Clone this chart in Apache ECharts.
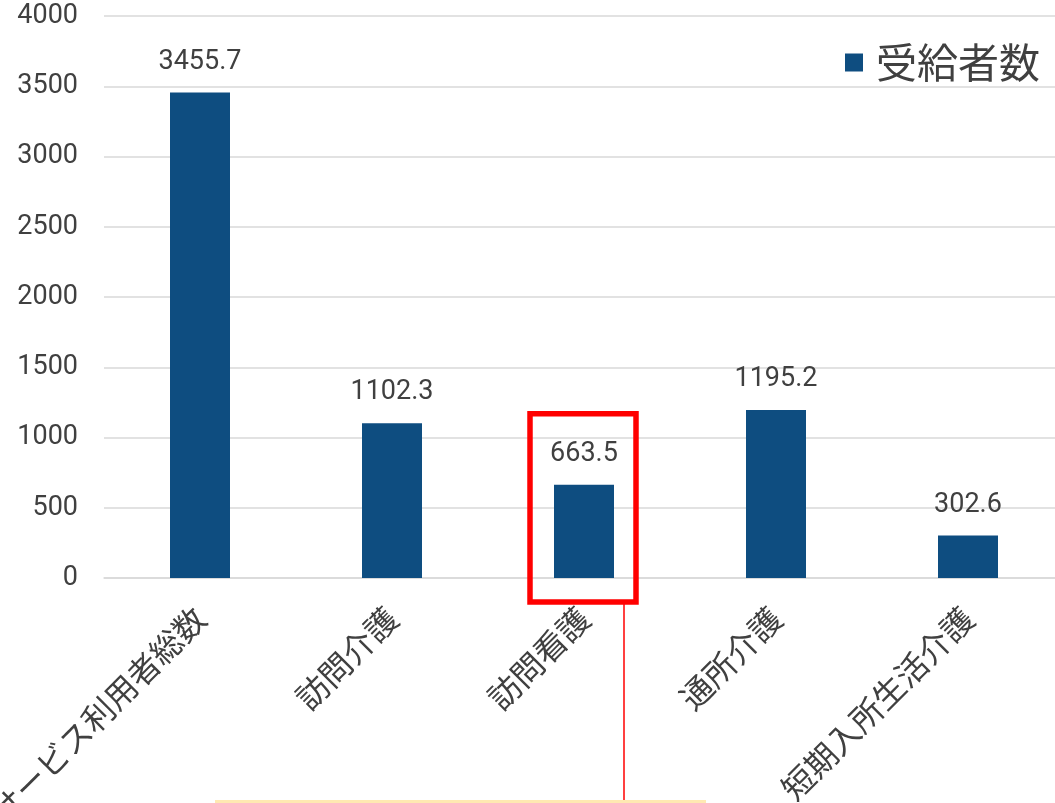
<!DOCTYPE html>
<html>
<head>
<meta charset="utf-8">
<script src="https://cdn.jsdelivr.net/npm/echarts@6/dist/echarts.min.js"></script>
<style>
html,body{margin:0;padding:0;background:#fff;}
#c{width:1055px;height:803px;}
</style>
</head>
<body>
<div id="c"></div>
<script>
const categories = ['サービス利用者総数', '訪問介護', '訪問看護', '通所介護', '短期入所生活介護'];
const seriesName = '受給者数';
const values = [3455.7, 1102.3, 663.5, 1195.2, 302.6];
const highlightIndex = 2;

const chart = echarts.init(document.getElementById('c'));
const txt = '#404040';
chart.setOption({
  animation: false,
  backgroundColor: '#ffffff',
  grid: { left: 104, right: -9, top: 16, bottom: 225, containLabel: false, outerBoundsMode: 'none' },
  legend: {
    data: [{ name: seriesName, icon: 'rect' }],
    right: 10, top: 37,
    itemWidth: 18, itemHeight: 18, itemGap: 10,
    textStyle: { fontSize: 41, color: txt, fontFamily: 'Noto Sans CJK JP', padding: [0,0,0,8] }
  },
  xAxis: {
    type: 'category',
    data: categories,
    axisLine: { show: true, lineStyle: { color: '#d9d9d9', width: 1.5 } },
    axisTick: { show: false },
    axisLabel: {
      rotate: 45, margin: 35, interval: 0,
      fontSize: 32, color: txt, fontFamily: 'Noto Sans CJK JP'
    }
  },
  yAxis: {
    type: 'value', min: 0, max: 4000, interval: 500,
    axisLine: { show: false }, axisTick: { show: false },
    splitLine: { lineStyle: { color: '#d9d9d9', width: 1.5 } },
    axisLabel: { fontSize: 27, color: txt, margin: 26, fontFamily: 'Roboto', formatter: v => String(v) }
  },
  series: [{
    name: seriesName,
    type: 'bar',
    data: values,
    barWidth: 60,
    itemStyle: { color: '#0E4D80' },
    label: {
      show: true, position: 'top', distance: 17,
      fontSize: 27, color: txt, fontFamily: 'Roboto',
      formatter: p => p.value.toFixed(1)
    }
  }]
});

// annotation around highlighted bar
const cx = chart.convertToPixel({ xAxisIndex: 0 }, categories[highlightIndex]);
const y0 = chart.convertToPixel({ yAxisIndex: 0 }, 0);
const yTop = chart.convertToPixel({ yAxisIndex: 0 }, values[highlightIndex]);
const boxL = cx - 54, boxR = cx + 52;
const boxT = yTop - 71, boxB = y0 + 24;
chart.setOption({
  graphic: [
    { type: 'rect', shape: { x: boxL, y: boxT, width: boxR - boxL, height: boxB - boxT },
      style: { fill: 'none', stroke: '#ff0000', lineWidth: 5.5 }, z: 100 },
    { type: 'line', shape: { x1: cx + 40, y1: boxB + 2, x2: cx + 40, y2: 800 },
      style: { stroke: '#ff0000', lineWidth: 1.5 }, z: 100 },
    { type: 'rect', shape: { x: 215, y: 800, width: 491, height: 10 },
      style: { fill: '#FFE9B2' }, z: 100 }
  ]
});
</script>
</body>
</html>
